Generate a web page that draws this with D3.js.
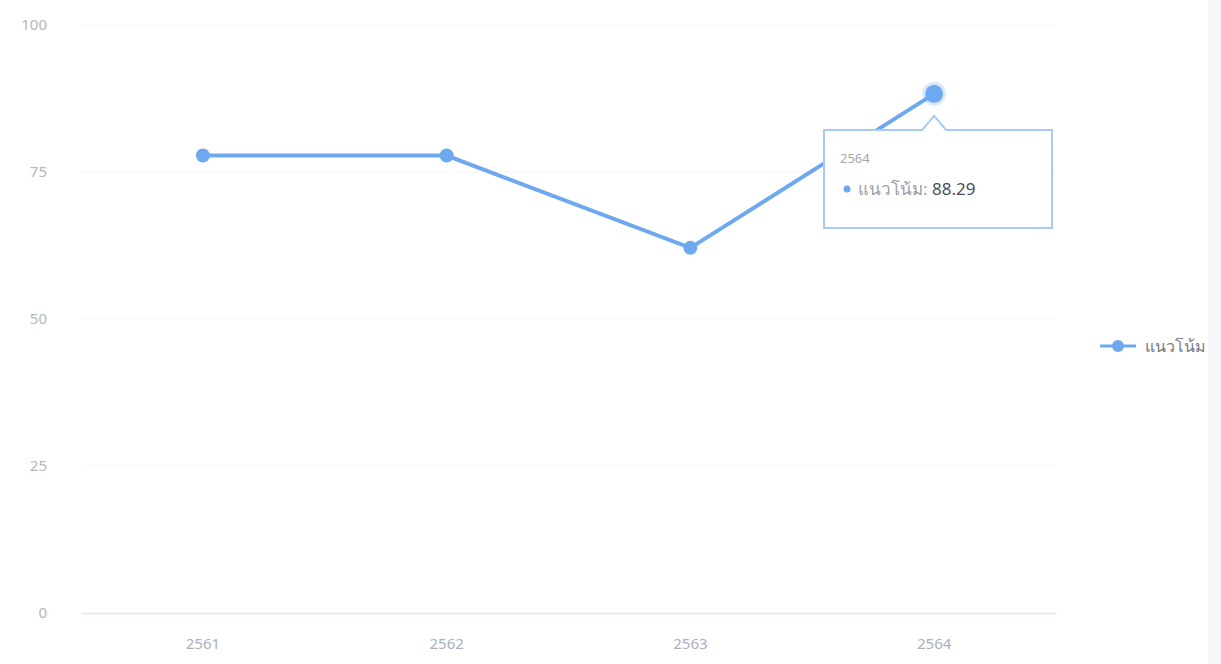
<!DOCTYPE html>
<meta charset="utf-8">
<html>
<style type='text/css'>
	body { margin:0; background:#f8f8fc; }
	#wrap { position:absolute; left:0; top:0; width:1208px; height:664px; overflow:hidden; background:#fff; }
	text { font-family: "Noto Sans", "DejaVu Sans", sans-serif; }
</style>
<script src="https://d3js.org/d3.v7.min.js"></script>
<body>
<div id="wrap"><svg id="chart" width="1221" height="664"></svg></div>
<script>

// data
var years = ["2561", "2562", "2563", "2564"];
var trend = [77.8, 77.8, 62.1, 88.29];
var yTicks = [0, 25, 50, 75, 100];
var seriesName = "แนวโน้ม";
var tipIndex = 3;

var blue = "#6ea9f0";

var svg = d3.select("#chart");

var x = d3.scaleBand().domain(years).range([81, 1056]);
var y = d3.scaleLinear().domain([0, 100]).range([613, 25]);

// grid
svg.append("g")
  .selectAll("line")
  .data(yTicks.slice(1))
  .enter().append("line")
    .attr("x1", 81).attr("x2", 1056)
    .attr("y1", d => y(d)).attr("y2", d => y(d))
    .attr("stroke", "#f7f7f9");

// y labels
svg.append("g")
  .selectAll("text")
  .data(yTicks)
  .enter().append("text")
    .attr("x", 47)
    .attr("y", d => y(d))
    .attr("dy", "0.35em")
    .attr("text-anchor", "end")
    .attr("fill", "#b4b6bc")
    .style("font-size", "15px")
    .text(d => d);

// x axis
var xAxis = svg.append("g")
  .attr("transform", "translate(0," + y(0) + ")")
  .call(d3.axisBottom(x).tickSize(0).tickPadding(25));
xAxis.select(".domain").attr("stroke", "#e3ecf4").attr("stroke-width", 2);
xAxis.selectAll("text")
  .attr("fill", "#aab0c0")
  .style("font-size", "15px")
  .style("font-family", "'Noto Sans', sans-serif");

// line
var line = d3.line()
  .x((d, i) => x(years[i]) + x.bandwidth() / 2)
  .y(d => y(d));

svg.append("path")
  .datum(trend)
  .attr("d", line)
  .attr("fill", "none")
  .attr("stroke", blue)
  .attr("stroke-width", 4);

svg.append("g")
  .selectAll("circle")
  .data(trend)
  .enter().append("circle")
    .attr("cx", (d, i) => x(years[i]) + x.bandwidth() / 2)
    .attr("cy", d => y(d))
    .attr("r", (d, i) => i === tipIndex ? 9 : 7)
    .attr("fill", blue)
    .attr("stroke", (d, i) => i === tipIndex ? "rgba(110,169,240,0.25)" : "none")
    .attr("stroke-width", 6);

// tooltip
var tx = x(years[tipIndex]) + x.bandwidth() / 2;
var ty = y(trend[tipIndex]);
var bx = 824, by = 130, bw = 228, bh = 98;
var tip = svg.append("g");
tip.append("path")
  .attr("d", "M" + bx + "," + by + " H" + (tx - 12) + " L" + tx + "," + (ty + 22) + " L" + (tx + 12) + "," + by +
        " H" + (bx + bw) + " V" + (by + bh) + " H" + bx + " Z")
  .attr("fill", "#fff")
  .attr("stroke", "#a9cbf3")
  .attr("stroke-width", 2);
tip.append("text")
  .attr("x", bx + 16).attr("y", by + 33)
  .attr("fill", "#a4a7b2")
  .style("font-size", "13px")
  .text(years[tipIndex]);
tip.append("circle")
  .attr("cx", bx + 23).attr("cy", by + 59).attr("r", 3.5)
  .attr("fill", blue);
var t2 = tip.append("text")
  .attr("x", bx + 34).attr("y", by + 65)
  .style("font-size", "17px");
t2.append("tspan").attr("fill", "#9a9daa").text(seriesName + ": ");
t2.append("tspan").attr("fill", "#4a4d5a").text(d3.format(".2f")(trend[tipIndex]));

// legend
var lg = svg.append("g").attr("transform", "translate(1100,346)");
lg.append("line").attr("x1", 0).attr("x2", 36).attr("stroke", blue).attr("stroke-width", 3);
lg.append("circle").attr("cx", 18).attr("r", 6).attr("fill", blue);
lg.append("text")
  .attr("x", 45).attr("dy", "0.35em")
  .attr("fill", "#777a88")
  .style("font-size", "16px")
  .text(seriesName);

</script>
</body>
</html>
